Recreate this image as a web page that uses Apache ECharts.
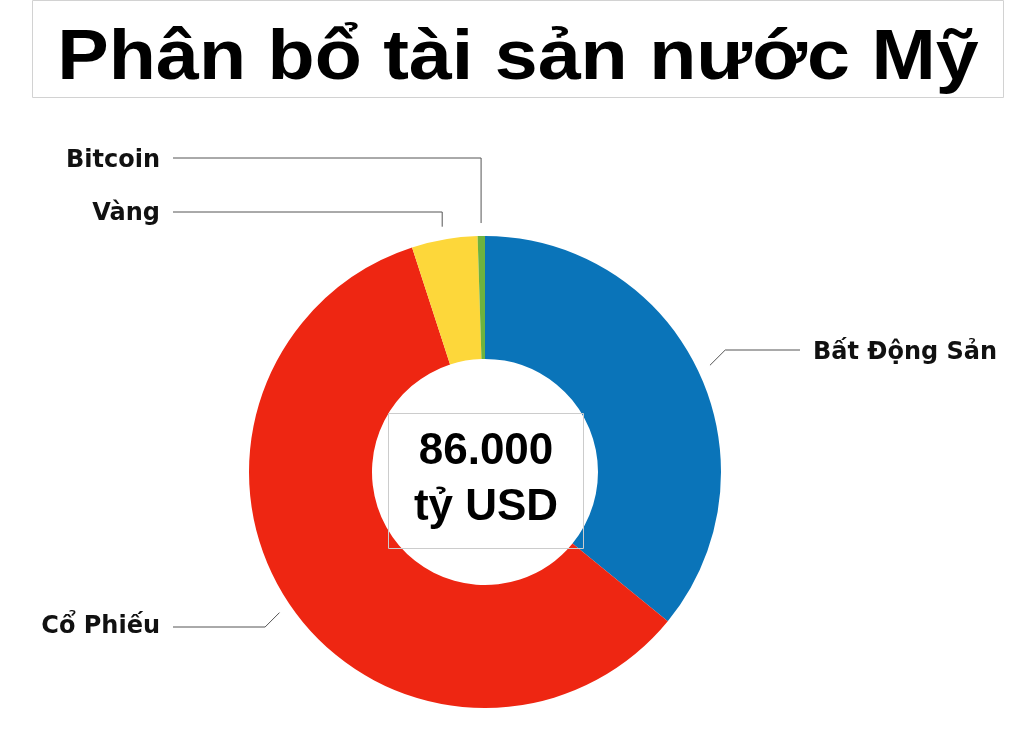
<!DOCTYPE html>
<html>
<head>
<meta charset="utf-8">
<script src="https://cdn.jsdelivr.net/npm/echarts@6/dist/echarts.min.js"></script>
<style>
  html, body { margin: 0; padding: 0; background: #fff; }
  #chart { width: 1024px; height: 733px; }
</style>
</head>
<body>
<div id="chart"></div>
<script>
// ---- data ----
const titleText = 'Phân bổ tài sản nước Mỹ';
const centerText = ['86.000', 'tỷ USD'];
const categories = ['Bất Động Sản', 'Cổ Phiếu', 'Vàng', 'Bitcoin'];
const shares = [35.9, 59.1, 4.5, 0.5];   // percent of total wealth
const colors = ['#0a74b9', '#ee2612', '#fdd73a', '#6db33f'];

// ---- layout (not data) ----
const CX = 485, CY = 472, R_IN = 113, R_OUT = 236, LINE_GAP = 13;
const labelSpots = [
  { side: 'right', lineY: 350, textX: 813, textY: 352.5, bend: 'diag' },
  { side: 'left',  lineY: 627, textX: 160, textY: 627,   bend: 'diag' },
  { side: 'left',  lineY: 212, textX: 160, textY: 214,   bend: 'vert' },
  { side: 'left',  lineY: 158, textX: 160, textY: 161,   bend: 'vert' }
];
const TEXT_GAP = 13;

const total = shares.reduce((a, b) => a + b, 0);
const midAngles = [];
let acc = 0;
shares.forEach(v => {
  const a = acc / total * 360, w = v / total * 360;
  midAngles.push((a + w / 2) * Math.PI / 180);
  acc += v;
});

const chart = echarts.init(document.getElementById('chart'), null, { renderer: 'canvas' });
chart.setOption({
  backgroundColor: '#ffffff',
  animation: false,
  graphic: [
    { type: 'rect', shape: { x: 32.5, y: 0.5, width: 971, height: 97 },
      style: { fill: 'none', stroke: '#d2d2d2', lineWidth: 1 }, z: 10 },
    { type: 'text', x: 518, y: 59, scaleX: 1.087, scaleY: 1,
      style: { text: titleText, fill: '#000', font: 'bold 71px "Liberation Sans", Arial, sans-serif',
               textAlign: 'center', textVerticalAlign: 'middle' }, z: 10 },
    { type: 'rect', shape: { x: 388.5, y: 413.5, width: 195, height: 135 },
      style: { fill: 'none', stroke: '#cccccc', lineWidth: 1 }, z: 10 },
    { type: 'text', x: 486, y: 480,
      style: { text: centerText.join('\n'), fill: '#000', font: 'bold 44px "Liberation Sans", Arial, sans-serif',
               lineHeight: 56, textAlign: 'center', textVerticalAlign: 'middle' }, z: 10 }
  ],
  series: [{
    type: 'pie',
    center: [CX, CY],
    radius: [R_IN, R_OUT],
    startAngle: 90,
    clockwise: true,
    avoidLabelOverlap: false,
    silent: true,
    data: categories.map((name, i) => ({ name, value: shares[i], itemStyle: { color: colors[i] } })),
    label: {
      show: true,
      formatter: '{b}',
      color: '#111',
      fontSize: 24,
      fontWeight: 'bold',
      fontFamily: '"DejaVu Sans", sans-serif'
    },
    labelLine: {
      show: true,
      length: 10,
      length2: 10,
      lineStyle: { color: '#555', width: 1 }
    },
    labelLayout: function (params) {
      const i = params.dataIndex;
      const spot = labelSpots[i];
      const ang = midAngles[i];
      const r = R_OUT + LINE_GAP;
      const p0 = [CX + r * Math.sin(ang), CY - r * Math.cos(ang)];
      let p1;
      if (spot.bend === 'vert') {
        p1 = [p0[0], spot.lineY];
      } else {
        const d = Math.abs(spot.lineY - p0[1]);
        p1 = [p0[0] + (spot.side === 'right' ? d : -d), spot.lineY];
      }
      const endX = spot.side === 'right' ? spot.textX - TEXT_GAP : spot.textX + TEXT_GAP;
      const p2 = [endX, spot.lineY];
      return {
        x: spot.textX,
        y: spot.textY,
        align: spot.side === 'right' ? 'left' : 'right',
        verticalAlign: 'middle',
        labelLinePoints: [p0, p1, p2]
      };
    }
  }]
});
</script>
</body>
</html>
